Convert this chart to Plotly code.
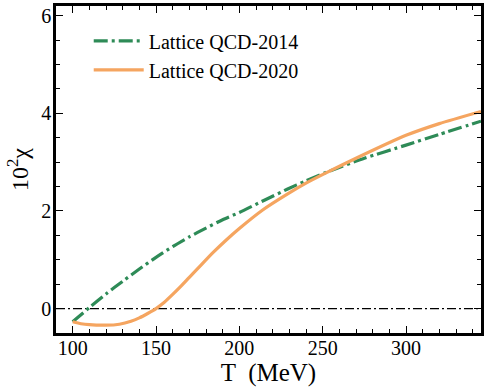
import plotly.graph_objects as go

T_2014 = [100, 110, 120, 130, 140, 150, 160, 170, 180, 190, 200, 215, 229, 240, 252, 275, 300, 320, 345]
chi_2014 = [-0.27, 0.02, 0.3, 0.56, 0.81, 1.05, 1.27, 1.47, 1.65, 1.82, 1.97, 2.22, 2.45, 2.62, 2.79, 3.08, 3.35, 3.57, 3.84]

T_2020 = [100, 105, 110, 120, 128, 135, 140, 145, 150, 155, 160, 165, 170, 177, 184, 192, 200, 214, 229, 240, 252, 270, 300, 320, 345]
chi_2020 = [-0.27, -0.31, -0.33, -0.34, -0.32, -0.26, -0.19, -0.1, 0.0, 0.13, 0.29, 0.46, 0.64, 0.89, 1.14, 1.4, 1.64, 2.02, 2.35, 2.57, 2.78, 3.08, 3.55, 3.79, 4.04]

zero_T = [90, 345]
zero_y = [0, 0]

font = "Liberation Serif"

fig = go.Figure()
fig.add_trace(go.Scatter(x=zero_T, y=zero_y, mode="lines", showlegend=False,
                         line=dict(color="black", width=1.3, dash="9px,3px,2px,3px")))
fig.add_trace(go.Scatter(x=T_2014, y=chi_2014, mode="lines", name="Lattice QCD-2014",
                         line=dict(color="#2e8b57", width=3.2, dash="14px,4px,3px,4px", shape="spline", smoothing=0.6)))
fig.add_trace(go.Scatter(x=T_2020, y=chi_2020, mode="lines", name="Lattice QCD-2020",
                         line=dict(color="#f5a560", width=3.2, shape="spline", smoothing=0.6)))

axis_common = dict(showline=True, linecolor="black", linewidth=2.5, mirror="allticks",
                   ticks="inside", ticklen=7, tickwidth=1, tickcolor="black",
                   showgrid=False, zeroline=False,
                   tickfont=dict(family=font, size=20, color="black"))

fig.update_xaxes(range=[90, 345], tickvals=[100, 150, 200, 250, 300], ticklabelstandoff=-5,
                 minor=dict(dtick=10, tick0=90, ticks="inside", ticklen=4, tickcolor="black"),
                 title=dict(text="T  (MeV)", font=dict(family=font, size=25, color="black"), standoff=2),
                 **axis_common)
fig.update_yaxes(range=[-0.5, 6.2], tickvals=[0, 2, 4, 6], ticklabelstandoff=-2,
                 minor=dict(dtick=0.5, tick0=0, ticks="inside", ticklen=4, tickcolor="black"),
                 title=dict(text="10<sup>2</sup>χ", font=dict(family=font, size=24, color="black"), standoff=6),
                 **axis_common)

fig.update_layout(width=486, height=390, margin=dict(l=56, r=2, t=6, b=57),
                  font=dict(family=font, color="black"),
                  plot_bgcolor="white", paper_bgcolor="white",
                  legend=dict(x=0.077, y=0.953, xanchor="left", yanchor="top",
                              bgcolor="rgba(0,0,0,0)", font=dict(family=font, size=20, color="black"),
                              tracegroupgap=0, itemwidth=50))

fig.write_html("out.html")
